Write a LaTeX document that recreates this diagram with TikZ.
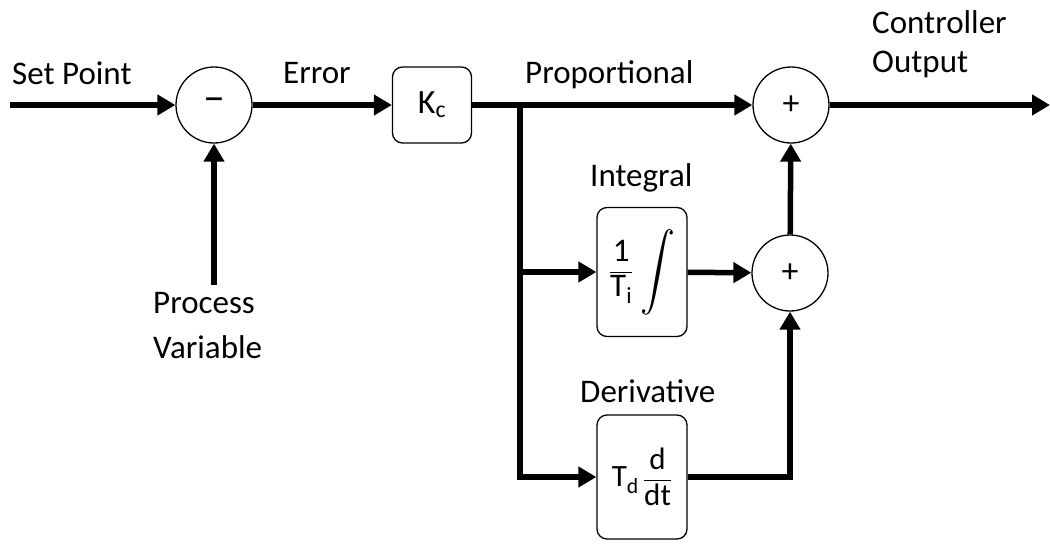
\documentclass[tikz,border=0pt]{standalone}
\usepackage{amsmath}
\usepackage{graphicx}
\usepackage{fontspec}
\setmainfont{Carlito}
\usetikzlibrary{arrows.meta}
\tikzset{
  sumc/.style={circle, draw, line width=1.3pt, minimum size=76pt, inner sep=0pt, font=\fontsize{34}{38}\selectfont},
  blk/.style={draw, rounded corners=10pt, line width=1.3pt, inner sep=0pt, font=\fontsize{34}{40}\selectfont},
  arr/.style={line width=5.5pt, -{Triangle[length=18pt,width=20pt]}},
  wire/.style={line width=5.5pt},
  lbl/.style={font=\fontsize{33}{40}\selectfont, inner sep=0pt, anchor=base west}
}
\begin{document}
\begin{tikzpicture}[x=1pt,y=-1pt]
\useasboundingbox (0,0) rectangle (1050,544);
% blocks
\node[sumc, font=\fontsize{44}{48}\selectfont] (s1) at (214,105) {\textendash};
\node[sumc] (s2) at (791,105) {+};
\node[sumc] (s3) at (790,273) {+};
\node[blk, minimum width=79pt, minimum height=76pt] (kc) at (432,105) {K$_{\text{c}}$};
\node[blk, minimum width=90pt, minimum height=129pt, font=\fontsize{33}{38}\selectfont] (int) at (642,272)
  {$\displaystyle\frac{\text{1}}{\text{T}_{\text{i}}}\;\vcenter{\hbox{\scalebox{1.4}[1.55]{$\displaystyle\int$}}}$};
\node[blk, minimum width=90pt, minimum height=124pt, font=\fontsize{31}{36}\selectfont] (der) at (642,477)
  {$\text{T}_{\text{d}}\,\displaystyle\frac{\text{d}}{\text{dt}}$};
% labels
\node[lbl] (tsp) at (12,84) {Set Point};
\node[lbl] (terr) at (283,83) {Error};
\node[lbl] (tprop) at (525,83) {Proportional};
\node[lbl] (tco1) at (872,33) {Controller};
\node[lbl] (tco2) at (872,72) {Output};
\node[lbl] (tint) at (590,186) {Integral};
\node[lbl] (tder) at (580,402) {Derivative};
\node[lbl] (tpv1) at (153,313) {Process};
\node[lbl] (tpv2) at (153,358) {Variable};
% coordinates
\coordinate (sp) at (10,105);
\coordinate (pv) at (214,285);
\coordinate (br) at (520,105);
\coordinate (bi) at (520,272);
\coordinate (out) at (1050,105);
% connectors
\draw[arr] (sp) -- (s1);
\draw[arr] (pv) -- (s1);
\draw[arr] (s1) -- (kc);
\draw[arr] (kc) -- (s2);
\draw[arr] (br) |- (der);
\draw[arr] (bi) -- (int);
\draw[arr] (int) -- (s3);
\draw[arr] (der) -| (s3);
\draw[arr] (s3) -- (s2);
\draw[arr] (s2) -- (out);
\end{tikzpicture}
\end{document}
